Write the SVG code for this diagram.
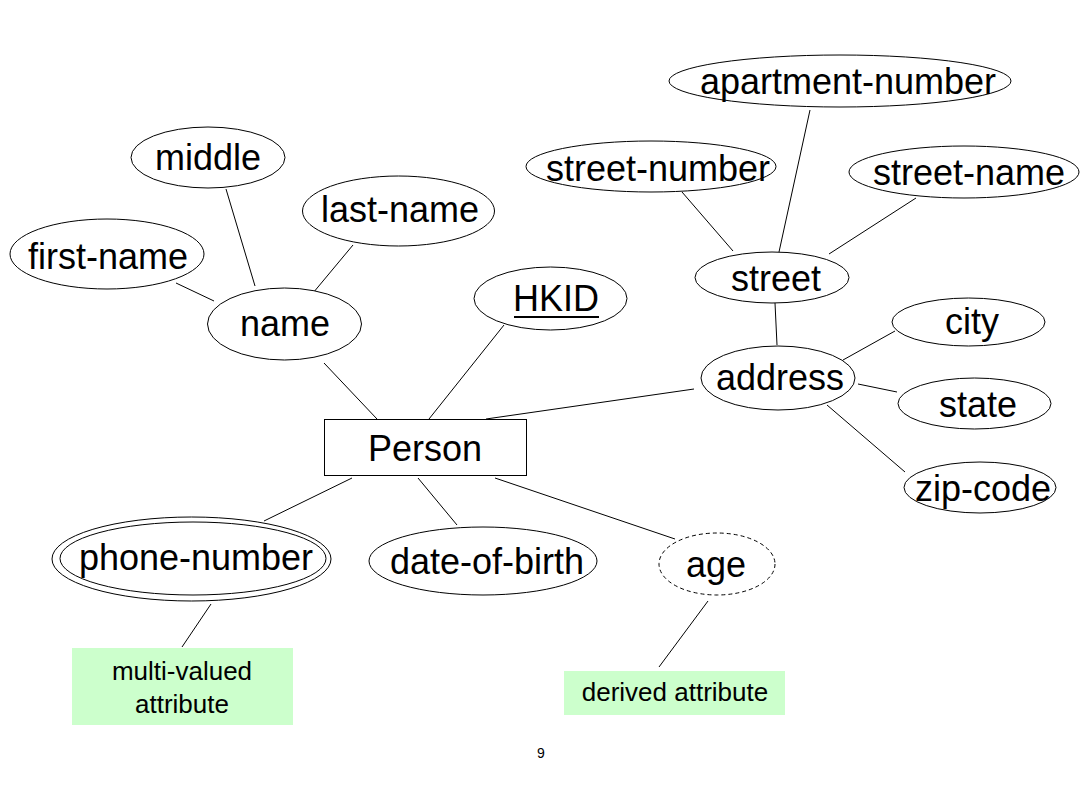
<svg xmlns="http://www.w3.org/2000/svg" width="1089" height="804" viewBox="0 0 1089 804">
<style>
.e{fill:#fff;stroke:#000;stroke-width:1}
.d{fill:#fff;stroke:#000;stroke-width:1;stroke-dasharray:4 3}
.t{font-family:"Liberation Sans",Arial,sans-serif;font-size:36px;text-anchor:middle;fill:#000}
.s{font-family:"Liberation Sans",Arial,sans-serif;font-size:26px;text-anchor:middle;fill:#000}
.n{fill:#ccffcc;stroke:none}
#connectors line{stroke:#000;stroke-width:1}
</style>
<rect width="1089" height="804" fill="#fff"/>
<g id="connectors">
<line x1="176" y1="283" x2="214" y2="301"/>
<line x1="226" y1="189" x2="255" y2="286"/>
<line x1="353" y1="245" x2="313" y2="293"/>
<line x1="324" y1="363" x2="377" y2="419"/>
<line x1="504" y1="325" x2="429" y2="419"/>
<line x1="694" y1="389" x2="486" y2="419"/>
<line x1="352" y1="478" x2="264" y2="521"/>
<line x1="418" y1="478" x2="457" y2="525"/>
<line x1="495" y1="478" x2="675" y2="539"/>
<line x1="211" y1="604" x2="182" y2="647"/>
<line x1="708" y1="601" x2="659" y2="667"/>
<line x1="682" y1="192" x2="733" y2="251"/>
<line x1="810" y1="110" x2="779" y2="252"/>
<line x1="916" y1="198" x2="829" y2="254"/>
<line x1="775" y1="303" x2="777" y2="345"/>
<line x1="843" y1="360" x2="895" y2="331"/>
<line x1="858" y1="384" x2="897" y2="392"/>
<line x1="827" y1="405" x2="905" y2="472"/>
</g>
<g id="middle"><ellipse class="e" cx="208" cy="157.5" rx="77" ry="30.5"/><text class="t" x="208" y="170">middle</text></g>
<g id="first-name"><ellipse class="e" cx="107" cy="254" rx="97" ry="35"/><text class="t" x="108" y="269">first-name</text></g>
<g id="last-name"><ellipse class="e" cx="398.5" cy="211" rx="96" ry="35"/><text class="t" x="400" y="222">last-name</text></g>
<g id="name"><ellipse class="e" cx="284.5" cy="324" rx="77" ry="36"/><text class="t" x="285" y="336">name</text></g>
<g id="HKID"><ellipse class="e" cx="550.5" cy="298.5" rx="76.5" ry="31.5"/><text class="t" x="556" y="311">HKID</text><line x1="514" y1="317" x2="599" y2="317" stroke="#000" stroke-width="2"/></g>
<g id="apartment-number"><ellipse class="e" cx="840" cy="81" rx="171" ry="26"/><text class="t" x="848" y="94">apartment-number</text></g>
<g id="street-number"><ellipse class="e" cx="651" cy="166.5" rx="125" ry="25.5"/><text class="t" x="658" y="181">street-number</text></g>
<g id="street-name"><ellipse class="e" cx="964" cy="172" rx="115" ry="26"/><text class="t" x="969" y="185">street-name</text></g>
<g id="street"><ellipse class="e" cx="772" cy="277.5" rx="77" ry="25.5"/><text class="t" x="776" y="291">street</text></g>
<g id="city"><ellipse class="e" cx="968.5" cy="322" rx="76.5" ry="24"/><text class="t" x="972" y="334">city</text></g>
<g id="address"><ellipse class="e" cx="778" cy="378" rx="77" ry="32"/><text class="t" x="780" y="390">address</text></g>
<g id="state"><ellipse class="e" cx="974.5" cy="403.5" rx="76.5" ry="25.5"/><text class="t" x="978" y="417">state</text></g>
<g id="zip-code"><ellipse class="e" cx="980" cy="487.5" rx="76" ry="25.5"/><text class="t" x="983" y="501">zip-code</text></g>
<g id="Person"><rect x="324.5" y="419.5" width="202" height="56" fill="#fff" stroke="#000" stroke-width="1"/><text class="t" x="425" y="461">Person</text></g>
<g id="phone-number"><ellipse class="e" cx="191.5" cy="559" rx="139.5" ry="42"/><ellipse class="e" cx="193" cy="558.5" rx="133" ry="36.5"/><text class="t" x="196" y="570">phone-number</text></g>
<g id="date-of-birth"><ellipse class="e" cx="483" cy="561" rx="114" ry="34"/><text class="t" x="487" y="574">date-of-birth</text></g>
<g id="age"><ellipse class="d" cx="717" cy="564" rx="58" ry="31"/><text class="t" x="716" y="577">age</text></g>
<g id="multi-valued-note"><rect class="n" x="72" y="648" width="221" height="77"/><text class="s" x="182" y="680">multi-valued</text><text class="s" x="182" y="713">attribute</text></g>
<g id="derived-note"><rect class="n" x="564" y="671" width="221" height="44"/><text class="s" x="675" y="701">derived attribute</text></g>
<text x="541" y="758" font-family="Liberation Sans, Arial, sans-serif" font-size="14" text-anchor="middle">9</text>
</svg>
